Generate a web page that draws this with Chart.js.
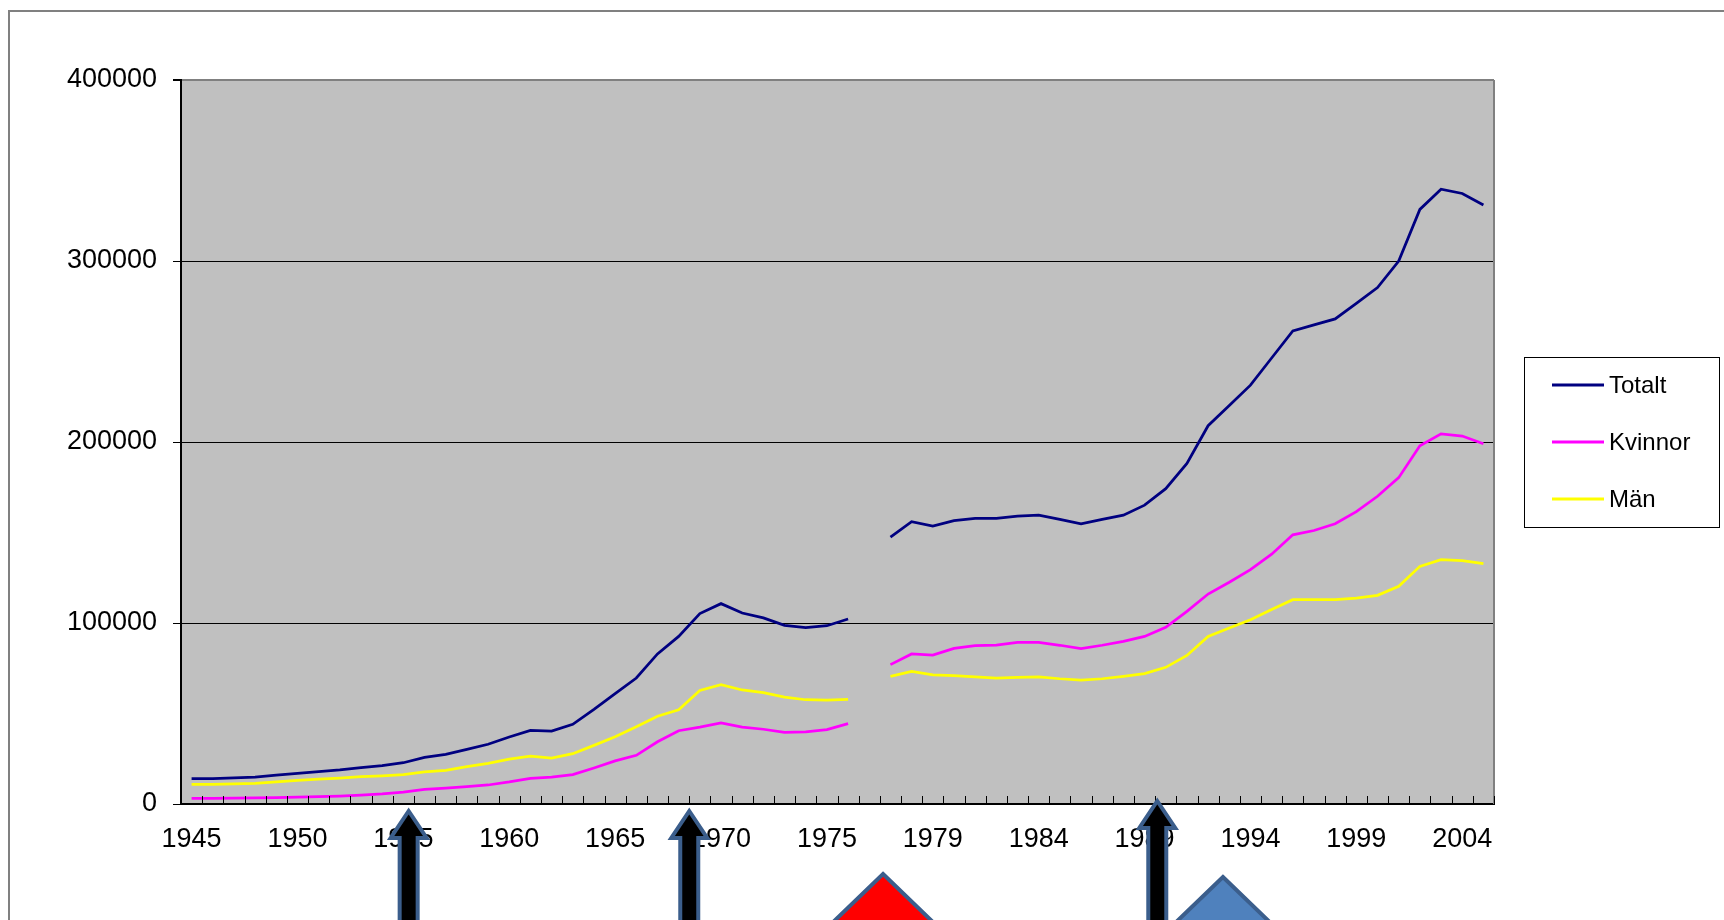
<!DOCTYPE html>
<html>
<head>
<meta charset="utf-8">
<script src="https://cdn.jsdelivr.net/npm/chart.js@4.4.1/dist/chart.umd.min.js"></script>
<style>
html,body{margin:0;padding:0;background:#fff;}
#wrap{width:1724px;height:920px;position:relative;overflow:hidden;}
</style>
</head>
<body>
<div id="wrap"><canvas id="c" width="1724" height="920"></canvas></div>
<script>
// ---- data ----
const categories = [
  '1945','1946','1947','1948','1949','1950','1951','1952','1953','1954',
  '1955','1956','1957','1958','1959','1960','1961','1962','1963','1964',
  '1965','1966','1967','1968','1969','1970','1971','1972','1973','1974',
  '1975','1976','',
  '1977','1978','1979','1980','1981','1982','1983','1984','1985','1986',
  '1987','1988','1989','1990','1991','1992','1993','1994','1995','1996',
  '1997','1998','1999','2000','2001','2002','2003','2004','2005'
];
const xTickLabels = ['1945','1950','1955','1960','1965','1970','1975','1979','1984','1989','1994','1999','2004'];
const yTicks = [0, 100000, 200000, 300000, 400000];

const totalt = [
  14000,14000,14400,14900,16000,16900,17900,18800,20100,21200,
  22800,25800,27400,30200,33000,37000,40700,40300,44000,52300,
  61000,69600,82900,92600,105200,110700,105500,102800,98700,97400,
  98500,102200,null,
  147500,156000,153600,156600,157800,157800,159000,159600,157200,154800,
  157200,159600,165100,174200,188200,209000,220200,231400,246400,261400,
  264700,268000,276600,285300,300000,328500,339700,337300,330900
];
const kvinnor = [
  3100,3100,3200,3400,3500,3800,4100,4400,4900,5600,
  6600,8100,8800,9600,10500,12200,14200,14900,16200,19900,
  23800,26900,34400,40500,42500,44800,42500,41300,39600,39800,
  41100,44400,null,
  77000,82900,82300,86000,87500,87800,89300,89300,87700,85800,
  87700,89900,92600,97600,106400,116000,122500,129500,138000,148700,
  151100,154800,161500,170000,180300,197900,204500,203300,199000
];
const man = [
  10900,10900,11100,11400,12200,13000,13700,14300,15100,15600,
  16200,17700,18600,20600,22500,24800,26500,25400,27800,32400,
  37200,42700,48500,52100,62700,65900,63000,61500,59100,57600,
  57400,57800,null,
  70500,73300,71300,70900,70300,69600,70000,70200,69200,68500,
  69200,70500,72000,75500,82100,92600,97200,101800,107400,112900,
  112900,112900,113800,115300,120300,131300,135000,134400,132800
];
const seriesNames = ['Totalt','Kvinnor','Män'];
const seriesColors = ['#000080','#FF00FF','#FFFF00'];

// decorative shapes below the axis, positioned on the category scale
const shapes = [
  {kind:'arrow', at:10.25, tip:7},
  {kind:'arrow', at:23.5, tip:7},
  {kind:'arrow', at:45.6, tip:-3},
  {kind:'triangle', at:32.65, tip:70, fill:'#FF0000'},
  {kind:'triangle', at:48.7, tip:73, fill:'#4F81BD'}
];

const FONT = 'Liberation Sans, Arial, sans-serif';

const excelPlugin = {
  id:'excel',
  beforeDraw(chart){
    const {ctx, chartArea:a} = chart;
    ctx.save();
    ctx.strokeStyle = '#808080';
    ctx.lineWidth = 2;
    ctx.strokeRect(9, 11, 1800, 1000);
    ctx.fillStyle = '#C0C0C0';
    ctx.fillRect(a.left, a.top, a.right - a.left, a.bottom - a.top);
    ctx.restore();
  },
  afterDatasetsDraw(chart){
    const {ctx, chartArea:a} = chart;
    const xs = chart.scales.x;
    ctx.save();
    ctx.strokeStyle = '#808080';
    ctx.lineWidth = 2;
    ctx.beginPath();
    ctx.moveTo(a.right, a.top); ctx.lineTo(a.right, a.bottom);
    ctx.stroke();
    ctx.strokeStyle = '#000';
    ctx.lineWidth = 1;
    const n = chart.data.labels.length;
    ctx.beginPath();
    for (let i = 0; i <= n; i++) {
      const x = Math.round(xs.getPixelForValue(i - 0.5)) + 0.5;
      ctx.moveTo(x, a.bottom); ctx.lineTo(x, a.bottom - 8);
    }
    ctx.stroke();
    ctx.restore();
  },
  afterDraw(chart){
    const {ctx, chartArea:a} = chart;
    const xs = chart.scales.x;
    ctx.save();
    const lx = 1524, ly = 357, lw = 195, lh = 170;
    ctx.fillStyle = '#fff';
    ctx.fillRect(lx, ly, lw, lh);
    ctx.strokeStyle = '#000';
    ctx.lineWidth = 1;
    ctx.strokeRect(lx + 0.5, ly + 0.5, lw, lh);
    ctx.font = '24px ' + FONT;
    ctx.textBaseline = 'middle';
    ctx.textAlign = 'left';
    chart.data.datasets.forEach((ds, i) => {
      const y = ly + 28 + i * 57;
      ctx.strokeStyle = ds.borderColor;
      ctx.lineWidth = 3;
      ctx.beginPath();
      ctx.moveTo(1552, y); ctx.lineTo(1604, y);
      ctx.stroke();
      ctx.fillStyle = '#000';
      ctx.fillText(ds.label, 1609, y + 1);
    });
    shapes.forEach(s => {
      const cx = xs.getPixelForValue(s.at);
      const tipY = a.bottom + s.tip;
      ctx.lineJoin = 'miter';
      if (s.kind === 'arrow') {
        const hw = 18, hh = 27, sw = 9;
        ctx.beginPath();
        ctx.moveTo(cx, tipY);
        ctx.lineTo(cx + hw, tipY + hh);
        ctx.lineTo(cx + sw, tipY + hh);
        ctx.lineTo(cx + sw, 960);
        ctx.lineTo(cx - sw, 960);
        ctx.lineTo(cx - sw, tipY + hh);
        ctx.lineTo(cx - hw, tipY + hh);
        ctx.closePath();
        ctx.fillStyle = '#000';
        ctx.fill();
        ctx.strokeStyle = '#3B5E8C';
        ctx.lineWidth = 4;
        ctx.stroke();
      } else {
        ctx.beginPath();
        ctx.moveTo(cx, tipY);
        ctx.lineTo(cx + 110, tipY + 106);
        ctx.lineTo(cx - 110, tipY + 106);
        ctx.closePath();
        ctx.fillStyle = s.fill;
        ctx.fill();
        ctx.strokeStyle = '#3B5E8C';
        ctx.lineWidth = 4;
        ctx.stroke();
      }
    });
    ctx.restore();
  }
};

const datasetsData = [totalt, kvinnor, man];
new Chart(document.getElementById('c'), {
  type:'line',
  data:{
    labels: categories,
    datasets: datasetsData.map((d, i) => ({
      label: seriesNames[i],
      data: d,
      borderColor: seriesColors[i],
      backgroundColor: seriesColors[i],
      borderWidth: 2.75,
      pointRadius: 0,
      tension: 0,
      spanGaps: false,
      fill: false
    }))
  },
  options:{
    responsive:false,
    animation:false,
    devicePixelRatio:1,
    layout:{padding:{top:80, right:230, left:0, bottom:0}},
    plugins:{legend:{display:false}, tooltip:{enabled:false}},
    scales:{
      x:{
        type:'category',
        offset:true,
        grid:{display:false, drawOnChartArea:false, drawTicks:false},
        border:{display:true, color:'#000', width:2},
        ticks:{
          autoSkip:false, maxRotation:0, minRotation:0, padding:19,
          color:'#000', font:{family:FONT, size:27},
          callback(v, i){ const l = categories[i]; return xTickLabels.includes(l) ? l : ''; }
        },
        afterFit(s){ s.height = 116; }
      },
      y:{
        min:0, max:400000,
        afterBuildTicks(s){ s.ticks = yTicks.map(v => ({value:v})); },
        grid:{
          color(c){ return c.tick && c.tick.value === 400000 ? '#808080' : '#000'; },
          lineWidth(c){ return c.tick && c.tick.value === 400000 ? 2 : 1; },
          tickColor:'#000', tickLength:8, drawTicks:true
        },
        border:{display:true, color:'#000', width:2},
        ticks:{padding:16, color:'#000', font:{family:FONT, size:27},
          callback(v){ return String(v); }},
        afterFit(s){ s.width = 181; }
      }
    }
  },
  plugins:[excelPlugin]
});
</script>
</body>
</html>
